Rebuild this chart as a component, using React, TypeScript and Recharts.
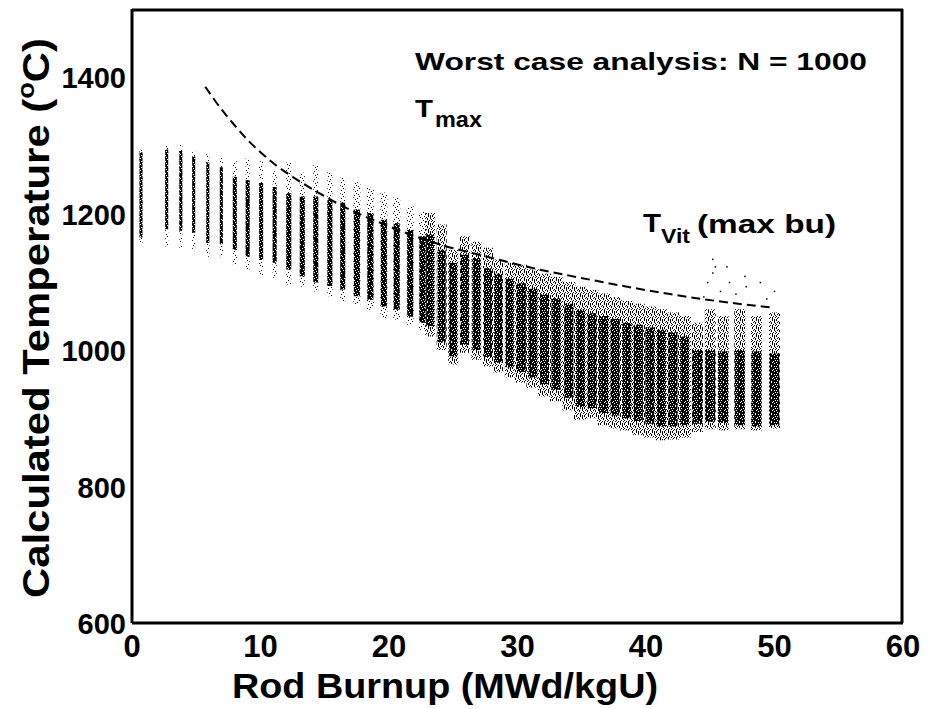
import React from 'react';
import { ComposedChart, Line, Scatter, XAxis, YAxis } from 'recharts';

// column positions (MWd/kgU) and the spread of each Monte Carlo column (deg C)
const burnup = [0.7, 2.7, 3.8, 4.8, 5.9, 6.95, 8.0, 9.0, 10.05, 11.1, 12.2, 13.25, 14.3, 15.4, 16.4, 17.5, 18.55, 19.6, 20.6, 21.65, 22.6, 23.2, 24.1, 25.0, 25.9, 26.8, 27.7, 28.5, 29.4, 30.3, 31.2, 32.1, 33.0, 34.0, 34.9, 35.8, 36.7, 37.6, 38.5, 39.4, 40.3, 41.2, 42.1, 43.0, 44.0, 45.0, 46.0, 47.3, 48.6, 50.0];
const outerLow = [1157, 1152, 1150, 1145, 1137, 1136, 1125, 1118, 1110, 1106, 1096, 1093, 1086, 1079, 1071, 1067, 1059, 1047, 1045, 1037, 1030, 1020, 1000, 979, 996, 986, 976, 967, 960, 952, 945, 932, 925, 912, 898, 900, 890, 885, 882, 876, 872, 868, 869, 872, 880, 884, 882, 884, 882, 885];
const outerHigh = [1297, 1301, 1301, 1291, 1289, 1284, 1277, 1282, 1277, 1262, 1275, 1260, 1272, 1261, 1253, 1246, 1238, 1231, 1224, 1211, 1203, 1201, 1184, 1147, 1167, 1159, 1150, 1133, 1128, 1125, 1118, 1112, 1107, 1100, 1093, 1088, 1083, 1078, 1072, 1068, 1064, 1060, 1055, 1050, 1040, 1060, 1050, 1060, 1050, 1055];
const coreLow = [1165, 1177, 1175, 1172, 1157, 1155, 1147, 1137, 1132, 1128, 1118, 1108, 1099, 1094, 1089, 1079, 1074, 1064, 1059, 1049, 1040, 1035, 1011, 991, 1008, 1000, 990, 982, 975, 968, 960, 950, 942, 930, 917, 915, 908, 904, 900, 896, 892, 888, 888, 890, 892, 895, 893, 890, 888, 890];
const coreHigh = [1290, 1294, 1292, 1284, 1275, 1268, 1254, 1249, 1245, 1239, 1230, 1225, 1225, 1220, 1216, 1206, 1201, 1191, 1186, 1176, 1167, 1170, 1147, 1128, 1140, 1135, 1120, 1112, 1105, 1098, 1090, 1082, 1076, 1068, 1059, 1054, 1050, 1046, 1040, 1037, 1033, 1030, 1026, 1020, 1000, 1000, 998, 1000, 998, 995];

// isolated points above the T_Vit curve
const outlierBurnup = [45.2, 45.4, 46.3, 44.8, 46.5, 47.7, 47.8, 48.9, 50.0, 45.8, 45.2, 44.5, 49.4, 47.0];
const outlierTemp = [1133, 1122, 1122, 1099, 1099, 1108, 1093, 1099, 1086, 1086, 1113, 1078, 1075, 1082];

// dashed T_max curve
const tmaxBurnup = [5.7, 7.0, 8.1, 9.0, 10.0, 11.2, 12.5, 14.3, 16.4, 19.8, 23.4, 27.4, 31.0, 34.9, 40.3, 45.5, 50.0];
const tmaxTemp = [1386, 1352, 1327, 1308, 1290, 1271, 1254, 1233, 1211, 1183, 1158, 1138, 1121, 1106, 1087, 1072, 1062];

const xMajorTicks = [0, 10, 20, 30, 40, 50, 60];
const xMinorTicks = [2, 4, 6, 8, 12, 14, 16, 18, 22, 24, 26, 28, 32, 34, 36, 38, 42, 44, 46, 48, 52, 54, 56, 58];
const yMajorTicks = [600, 800, 1000, 1200, 1400];
const yMinorTicks = [650, 700, 750, 850, 900, 950, 1050, 1100, 1150, 1250, 1300, 1350, 1450];

const FONT = '"Liberation Sans", Arial, Helvetica, sans-serif';

// stroke widths and dot textures of the columns by burnup (styling only)
const BANDS = [
  { upTo: 7, ow: 3, cw: 3, outer: 'sparse', core: 'solid' },
  { upTo: 12, ow: 4, cw: 4, outer: 'sparse', core: 'solid' },
  { upTo: 17, ow: 5, cw: 5, outer: 'sparse', core: 'solid' },
  { upTo: 23, ow: 7, cw: 6, outer: 'sparse', core: 'solid' },
  { upTo: 30, ow: 10, cw: 8, outer: 'thin', core: 'cloud' },
  { upTo: 43.5, ow: 13, cw: 9, outer: 'thin', core: 'cloud' },
  { upTo: 61, ow: 11, cw: 10, outer: 'thin', core: 'cloud' },
];

// dot textures: X = black pixel
const PATTERNS: Record<string, string[]> = {
  sparse: ['X.......', '....X...', '......X.', '..X.....', '.......X', '.X......', '.....X..', '...X....'],
  thin: ['X...X.X.', '..X...X.', '.X.X..X.', '...X...X', 'X....X..', '..X.X..X', '.X..X...', 'X...X.X.'],
  solid: ['X.XXXX', 'XXXX.X', 'XX.XXX', 'XXXXX.', '.XXXXX', 'XXX.XX'],
  cloud: ['X.XXXXX.', 'XX.XX.XX', '.XXX.XXX', 'XXXXXX.X', 'X.XXX.XX', 'XXX.XXXX', '.XX.XX.X', 'XXXX.XXX'],
};

const bandOf = (b: number) => BANDS.findIndex(band => b < band.upTo);

const segments = (lows: number[], highs: number[], bandIdx: number) => {
  const rows: { x: number; y: number | null }[] = [];
  burnup.forEach((b, i) => {
    if (bandOf(b) !== bandIdx) return;
    rows.push({ x: b, y: lows[i] });
    rows.push({ x: b, y: highs[i] });
    rows.push({ x: b, y: null });
  });
  return rows;
};

const tmaxData = tmaxBurnup.map((x, i) => ({ x, y: tmaxTemp[i] }));
const outlierData = outlierBurnup.map((x, i) => ({ x, y: outlierTemp[i] }));

const noTick = () => <g />;

const renderXTick = (props: any) => {
  const { x, y, payload } = props;
  return (
    <text x={x} y={y} dy={34} textAnchor="middle" fontSize={31} fontWeight="bold" fontFamily={FONT} fill="#000">
      {payload.value}
    </text>
  );
};

const renderYTick = (props: any) => {
  const { x, y, payload } = props;
  return (
    <text x={x} y={y} dy={11} textAnchor="end" fontSize={29} fontWeight="bold" fontFamily={FONT} fill="#000">
      {payload.value}
    </text>
  );
};

const renderDot = (props: any) => (
  <rect x={props.cx - 0.75} y={props.cy - 0.75} width={1.5} height={1.5} fill="#000" />
);

const tickStroke = { stroke: '#000', strokeWidth: 1.5 };
const frame = { stroke: '#000', strokeWidth: 3 };

const DotPattern = ({ id, rows }: { id: string; rows: string[] }) => (
  <pattern id={id} width={rows[0].length} height={rows.length} patternUnits="userSpaceOnUse">
    {rows.map((row, r) =>
      row.split('').map((c, k) => (c === 'X' ? <rect key={`${r}-${k}`} x={k} y={r} width={1} height={1} fill="#000" /> : null))
    )}
  </pattern>
);

export default function App() {
  return (
    <div style={{ position: 'relative', width: 931, height: 709, background: '#fff' }}>
      <style>{'body{margin:0}'}</style>
      <svg width={0} height={0} style={{ position: 'absolute' }}>
        <defs>
          {Object.entries(PATTERNS).map(([id, rows]) => <DotPattern key={id} id={id} rows={rows} />)}
        </defs>
      </svg>

      <ComposedChart width={931} height={709} margin={{ top: 9, right: 28, bottom: 0, left: 0 }}>
        <XAxis xAxisId="x" type="number" dataKey="x" domain={[0, 60]} ticks={xMajorTicks} interval={0}
          height={86} tickSize={0} tickMargin={0} tickLine={false} axisLine={frame} tick={renderXTick} allowDataOverflow />
        <XAxis xAxisId="xbMin" type="number" domain={[0, 60]} ticks={xMinorTicks} interval={0} orientation="bottom"
          mirror height={1} tickSize={5} tickLine={tickStroke} axisLine={false} tick={noTick} />
        <XAxis xAxisId="xbMaj" type="number" domain={[0, 60]} ticks={xMajorTicks} interval={0} orientation="bottom"
          mirror height={1} tickSize={8} tickLine={tickStroke} axisLine={false} tick={noTick} />
        <XAxis xAxisId="xtMin" type="number" domain={[0, 60]} ticks={xMinorTicks} interval={0} orientation="top"
          mirror height={1} tickSize={5} tickLine={tickStroke} axisLine={frame} tick={noTick} />
        <XAxis xAxisId="xtMaj" type="number" domain={[0, 60]} ticks={xMajorTicks} interval={0} orientation="top"
          mirror height={1} tickSize={8} tickLine={tickStroke} axisLine={false} tick={noTick} />

        <YAxis yAxisId="y" type="number" dataKey="y" domain={[600, 1500]} ticks={yMajorTicks} interval={0}
          width={132} tickSize={0} tickMargin={6} tickLine={false} axisLine={frame} tick={renderYTick} allowDataOverflow />
        <YAxis yAxisId="ylMin" type="number" domain={[600, 1500]} ticks={yMinorTicks} interval={0} orientation="left"
          mirror width={1} tickSize={5} tickLine={tickStroke} axisLine={false} tick={noTick} />
        <YAxis yAxisId="ylMaj" type="number" domain={[600, 1500]} ticks={yMajorTicks} interval={0} orientation="left"
          mirror width={1} tickSize={8} tickLine={tickStroke} axisLine={false} tick={noTick} />
        <YAxis yAxisId="yrMin" type="number" domain={[600, 1500]} ticks={yMinorTicks} interval={0} orientation="right"
          mirror width={1} tickSize={5} tickLine={tickStroke} axisLine={frame} tick={noTick} />
        <YAxis yAxisId="yrMaj" type="number" domain={[600, 1500]} ticks={yMajorTicks} interval={0} orientation="right"
          mirror width={1} tickSize={8} tickLine={tickStroke} axisLine={false} tick={noTick} />

        {BANDS.map((band, k) => (
          <Line key={`o${k}`} xAxisId="x" yAxisId="y" data={segments(outerLow, outerHigh, k)} dataKey="y"
            type="linear" stroke={`url(#${band.outer})`} strokeWidth={band.ow} dot={false} activeDot={false}
            isAnimationActive={false} />
        ))}
        {BANDS.map((band, k) => (
          <Line key={`c${k}`} xAxisId="x" yAxisId="y" data={segments(coreLow, coreHigh, k)} dataKey="y"
            type="linear" stroke={`url(#${band.core})`} strokeWidth={band.cw} dot={false} activeDot={false}
            isAnimationActive={false} />
        ))}
        <Scatter xAxisId="x" yAxisId="y" data={outlierData} dataKey="y" shape={renderDot} isAnimationActive={false} />
        <Line xAxisId="x" yAxisId="y" data={tmaxData} dataKey="y" type="monotone" stroke="#000" strokeWidth={2}
          strokeDasharray="9 5" dot={false} activeDot={false} isAnimationActive={false} />
      </ComposedChart>

      <svg width={931} height={709} style={{ position: 'absolute', left: 0, top: 0, pointerEvents: 'none' }}
        fontFamily={FONT} fontWeight="bold" fill="#000">
        <text x={415} y={70} fontSize={24} textLength={452} lengthAdjust="spacingAndGlyphs">Worst case analysis: N = 1000</text>
        <text x={415} y={117} fontSize={24} textLength={18} lengthAdjust="spacingAndGlyphs">T</text>
        <text x={435} y={127} fontSize={22} textLength={47} lengthAdjust="spacingAndGlyphs">max</text>
        <text x={643} y={232} fontSize={25} textLength={18} lengthAdjust="spacingAndGlyphs">T</text>
        <text x={661} y={243} fontSize={20} textLength={29} lengthAdjust="spacingAndGlyphs">Vit</text>
        <text x={697} y={233} fontSize={26} textLength={139} lengthAdjust="spacingAndGlyphs">(max bu)</text>
        <text x={232} y={698} fontSize={35} textLength={426} lengthAdjust="spacingAndGlyphs">Rod Burnup (MWd/kgU)</text>
        <text transform="translate(49,318) rotate(-90)" textAnchor="middle" fontSize={37} textLength={560}
          lengthAdjust="spacingAndGlyphs">
          Calculated Temperature (<tspan fontSize={24} dy={-15}>o</tspan><tspan dy={15}>C)</tspan>
        </text>
      </svg>
    </div>
  );
}
